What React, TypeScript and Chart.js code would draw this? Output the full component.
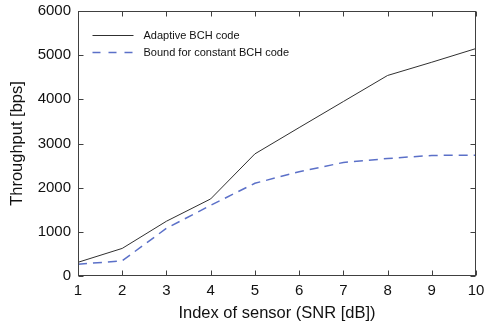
import React, { useEffect, useRef } from 'react';
import { Chart, registerables } from 'chart.js';

Chart.register(...registerables);

const sensorIndex = [1, 2, 3, 4, 5, 6, 7, 8, 9, 10];
const adaptiveBCH = [310, 625, 1240, 1745, 2765, 3360, 3950, 4540, 4840, 5150];
const boundConstantBCH = [265, 345, 1080, 1600, 2100, 2360, 2570, 2660, 2730, 2735];
const xTickValues = [1, 2, 3, 4, 5, 6, 7, 8, 9, 10];
const yTickValues = [0, 1000, 2000, 3000, 4000, 5000, 6000];
const seriesLabels = ['Adaptive BCH code', 'Bound for constant BCH code'];

const FONT = '"Liberation Sans", Arial, Helvetica, sans-serif';

const boxPlugin = {
  id: 'matlabBox',
  afterDatasetsDraw(chart: any) {
    const { ctx, chartArea, scales } = chart;
    const { left, right, top, bottom } = chartArea;
    const L = Math.round(left) + 0.5;
    const R = Math.round(right) - 0.5;
    const T = Math.round(top) + 0.5;
    const B = Math.round(bottom) - 0.5;
    ctx.save();
    ctx.strokeStyle = '#404040';
    ctx.lineWidth = 1;
    ctx.setLineDash([]);
    ctx.strokeRect(L, T, R - L, B - T);
    const tl = 5;
    ctx.beginPath();
    xTickValues.forEach((v) => {
      const px = Math.round(scales.x.getPixelForValue(v)) + 0.5;
      ctx.moveTo(px, B);
      ctx.lineTo(px, B - tl);
      ctx.moveTo(px, T);
      ctx.lineTo(px, T + tl);
    });
    yTickValues.forEach((v) => {
      const py = Math.round(scales.y.getPixelForValue(v)) + 0.5;
      ctx.moveTo(L, py);
      ctx.lineTo(L + tl, py);
      ctx.moveTo(R, py);
      ctx.lineTo(R - tl, py);
    });
    ctx.stroke();

    // legend
    const datasets = chart.data.datasets;
    const x0 = L + 14;
    const x1 = L + 55;
    const tx = L + 65;
    datasets.forEach((ds: any, i: number) => {
      const yy = Math.round(T + 23 + i * 17) + 0.5;
      ctx.beginPath();
      ctx.strokeStyle = ds.borderColor;
      ctx.lineWidth = ds.borderWidth;
      ctx.setLineDash(ds.borderDash && ds.borderDash.length ? [8, 8] : []);
      ctx.moveTo(x0, yy);
      ctx.lineTo(x1, yy);
      ctx.stroke();
      ctx.setLineDash([]);
      ctx.fillStyle = '#111';
      ctx.font = `11px ${FONT}`;
      ctx.textBaseline = 'middle';
      ctx.textAlign = 'left';
      ctx.fillText(ds.label, tx, yy);
    });
    ctx.restore();
  },
};

const bgPlugin = {
  id: 'whiteBg',
  beforeDraw(chart: any) {
    const { ctx, width, height } = chart;
    ctx.save();
    ctx.fillStyle = '#ffffff';
    ctx.fillRect(0, 0, width, height);
    ctx.restore();
  },
};

export default function App() {
  const ref = useRef<HTMLCanvasElement | null>(null);

  useEffect(() => {
    if (!ref.current) return;
    const chart = new Chart(ref.current, {
      type: 'line',
      data: {
        datasets: [
          {
            label: seriesLabels[0],
            data: sensorIndex.map((x, i) => ({ x, y: adaptiveBCH[i] })),
            borderColor: '#303030',
            borderWidth: 1,
            pointRadius: 0,
            tension: 0,
            fill: false,
          },
          {
            label: seriesLabels[1],
            data: sensorIndex.map((x, i) => ({ x, y: boundConstantBCH[i] })),
            borderColor: '#5b70c8',
            borderWidth: 1.5,
            borderDash: [9, 6],
            pointRadius: 0,
            tension: 0,
            fill: false,
          },
        ],
      },
      options: {
        responsive: false,
        animation: false,
        devicePixelRatio: 1,
        layout: { padding: { top: 11, right: 8, left: 0, bottom: 0 } },
        plugins: {
          legend: { display: false },
          tooltip: { enabled: false },
        },
        scales: {
          x: {
            type: 'linear',
            min: 1,
            max: 10,
            afterFit: (s: any) => {
              s.height = 47;
              s.paddingLeft = 0;
              s.paddingRight = 0;
            },
            afterBuildTicks: (s: any) => {
              s.ticks = xTickValues.map((v) => ({ value: v }));
            },
            grid: { display: false, drawTicks: false },
            border: { display: false },
            ticks: {
              padding: 6,
              color: '#111',
              font: { family: FONT, size: 15 },
              maxRotation: 0,
              autoSkip: false,
              callback: (v: any) => String(v),
            },
            title: {
              display: true,
              text: 'Index of sensor (SNR [dB])',
              color: '#111',
              font: { family: FONT, size: 16.5 },
              padding: { top: 0, bottom: 0 },
            },
          },
          y: {
            type: 'linear',
            min: 0,
            max: 6000,
            afterFit: (s: any) => {
              s.width = 78;
              s.paddingTop = 0;
              s.paddingBottom = 0;
            },
            afterBuildTicks: (s: any) => {
              s.ticks = yTickValues.map((v) => ({ value: v }));
            },
            grid: { display: false, drawTicks: false },
            border: { display: false },
            ticks: {
              padding: 7,
              color: '#111',
              font: { family: FONT, size: 15 },
              autoSkip: false,
              callback: (v: any) => String(v),
            },
            title: {
              display: true,
              text: 'Throughput [bps]',
              color: '#111',
              font: { family: FONT, size: 16.5 },
              padding: { top: 8, bottom: 0 },
            },
          },
        },
      },
      plugins: [bgPlugin, boxPlugin],
    } as any);
    return () => chart.destroy();
  }, []);

  return (
    <div style={{ position: 'absolute', left: 0, top: 0, width: 484, height: 323 }}>
      <canvas ref={ref} width={484} height={323} style={{ display: 'block' }} />
    </div>
  );
}
